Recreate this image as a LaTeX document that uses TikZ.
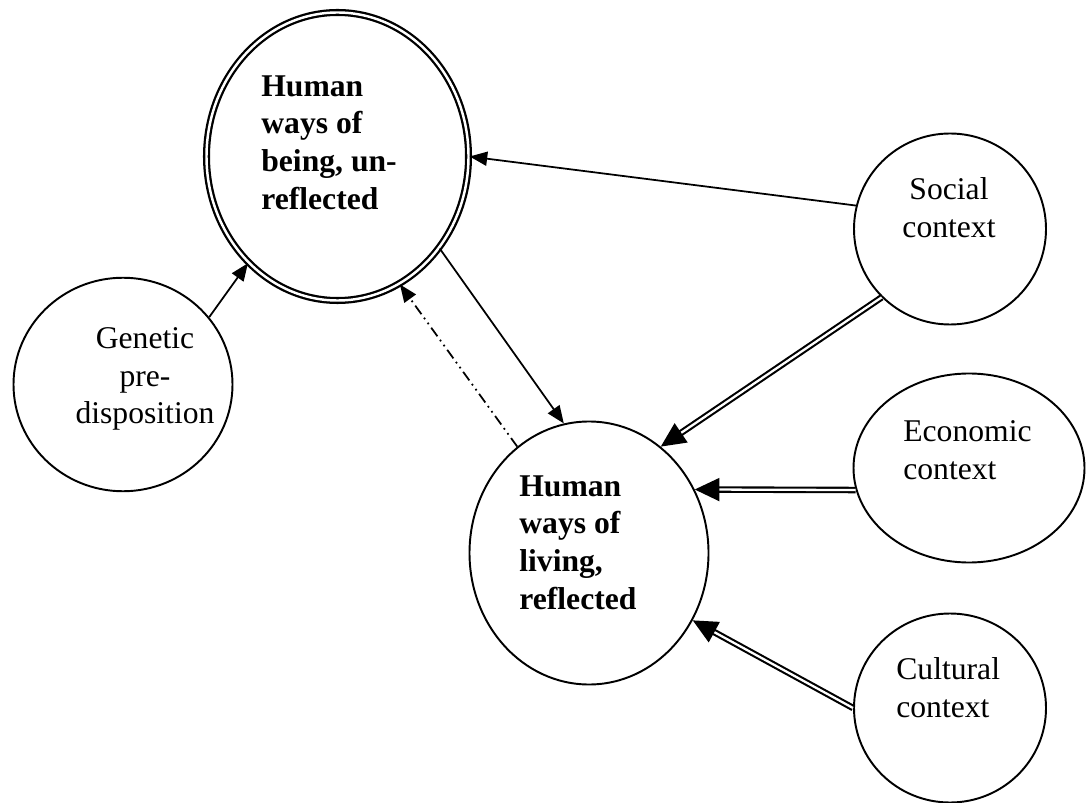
\documentclass[tikz,border=0pt]{standalone}
\usepackage{fontspec}
\setmainfont{Liberation Serif}
\usepackage{tikz}
\usetikzlibrary{shapes.geometric,arrows.meta}
\tikzstyle{bubble} = [ellipse, draw=black, line width=1.1pt, inner sep=0pt]
\tikzstyle{dblbubble} = [ellipse, draw=black, line width=1.3pt, double, double distance=1.4pt, inner sep=0pt]
\tikzstyle{boldtxt} = [font=\fontsize{18}{21.5}\selectfont\bfseries, align=left, inner sep=0pt, anchor=north west]
\tikzstyle{plaintxt} = [font=\fontsize{18}{21.5}\selectfont, inner sep=0pt]
\tikzstyle{arrow} = [line width=1pt,-{Triangle[length=10pt,width=8pt]}]
\tikzstyle{arrow2} = [line width=1.2pt,double,double distance=1.3pt,-{Triangle[length=14pt,width=13pt]}]
\tikzstyle{arrow3} = [arrow,dash pattern=on 6pt off 2.5pt on 1pt off 2.5pt on 1pt off 2.5pt]

\begin{document}
\begin{tikzpicture}
\useasboundingbox (0,0) rectangle (21.74,-16.06);
 \node (being) [dblbubble,minimum width=5.24cm,minimum height=5.76cm] at (6.75,-3.13) {};
 \node (genetic) [bubble,minimum width=4.38cm,minimum height=4.27cm] at (2.46,-7.69) {};
 \node (living) [bubble,minimum width=4.78cm,minimum height=5.26cm] at (11.78,-11.06) {};
 \node (social) [bubble,minimum width=3.84cm,minimum height=3.82cm] at (19.00,-4.58) {};
 \node (economic) [bubble,minimum width=4.62cm,minimum height=3.78cm] at (19.38,-9.36) {};
 \node (cultural) [bubble,minimum width=3.84cm,minimum height=3.78cm] at (19.00,-14.16) {};
% texts
\node (beingtxt) [boldtxt] at (5.22,-1.50) {Human\\ways of\\being, un-\\reflected};
\node (livingtxt) [boldtxt] at (10.38,-9.50) {Human\\ways of\\living,\\reflected};
\node (genetictxt) [plaintxt,align=center,anchor=north] at (2.90,-6.54) {Genetic\\pre-\\disposition};
\node (socialtxt) [plaintxt,align=center,anchor=north] at (18.98,-3.54) {Social\\context};
\node (economictxt) [plaintxt,align=left,anchor=north west] at (18.06,-8.40) {Economic\\context};
\node (culturaltxt) [plaintxt,align=left,anchor=north west] at (17.92,-13.14) {Cultural\\context};
% connectors
\draw [arrow] (social.166) -- (being.0);
\draw [arrow] (genetic.38) -- (being.230);
\draw [arrow] (being.318) -- (living.101);
\draw [arrow3] (living.124) -- (being.296);
\draw [arrow2] (social.225) -- (living.56);
\draw [arrow2] (economic.191) -- (living.31);
\draw [arrow2] (cultural.180) -- (living.327);
  \end{tikzpicture}
\end{document}
